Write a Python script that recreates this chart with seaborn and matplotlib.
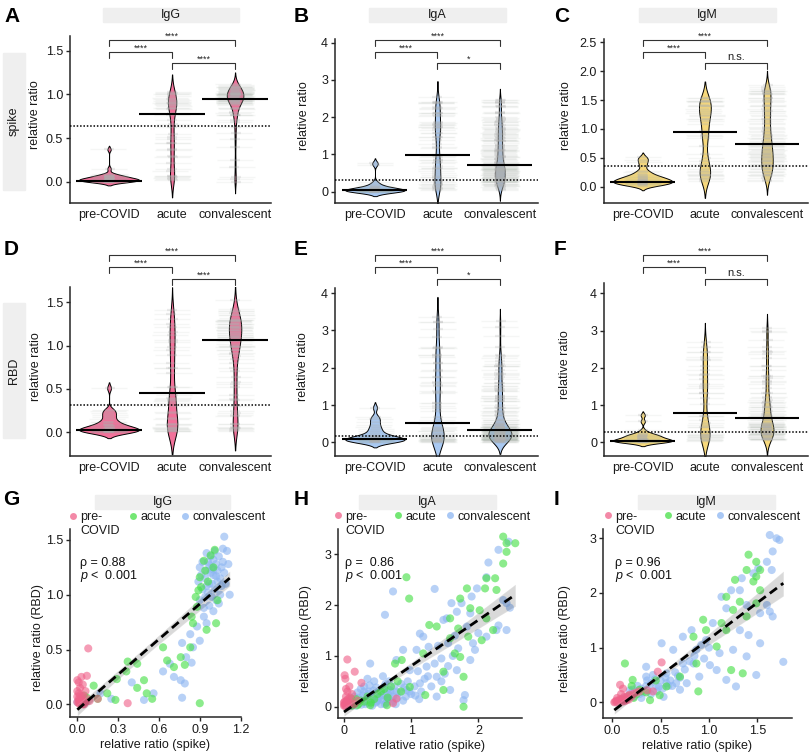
import numpy as np
import pandas as pd
import matplotlib
matplotlib.use("Agg")
import matplotlib.pyplot as plt
from matplotlib.lines import Line2D
from matplotlib.patches import Rectangle
import seaborn as sns

# ---------------- data (spike, RBD) pairs ----------------
GROUPS = ["pre-COVID", "acute", "convalescent"]
ISOTYPES = ["IgG", "IgA", "IgM"]

IGG_PRE = [(0.00,0.02),(0.01,0.05),(0.02,0.00),(0.01,0.10),(0.03,0.03),(0.02,0.15),(0.00,0.22),
           (0.04,0.08),(0.05,0.02),(0.03,0.25),(0.06,0.12),(0.01,0.01),(0.02,0.04),(0.07,0.05),
           (0.04,0.18),(0.08,0.51),(0.07,0.26),(0.15,0.05),(0.37,0.01),(0.00,0.07),(0.01,0.03),
           (0.02,0.01),(0.03,0.06),(0.05,0.00),(0.09,0.03),(0.00,0.12),(0.01,0.20),(0.02,0.08),
           (0.04,0.00),(0.06,0.02)]
IGG_ACU = [(0.12,0.17),(0.15,0.05),(0.22,0.10),(0.28,0.04),(0.29,0.23),(0.36,0.30),(0.37,0.39),
           (0.44,0.37),(0.44,0.15),(0.49,0.22),(0.51,0.10),(0.55,0.05),(0.63,0.52),(0.66,0.40),
           (0.71,0.34),(0.76,0.43),(0.79,0.36),(0.83,0.52),(0.85,0.74),(0.84,0.80),(0.88,0.89),
           (0.90,0.01),(0.87,0.98),(0.89,1.04),(0.90,1.16),(0.94,1.22),(0.93,1.31),(0.98,1.36),
           (1.01,1.41),(0.96,1.12),(1.02,0.74),(1.03,0.95),(0.95,0.68),(0.91,1.07),(1.00,1.25),
           (0.03,0.04),(0.05,0.08),(0.04,0.02),(0.06,0.03),(0.02,0.01),(0.07,0.06)]
IGG_CON = [(0.25,0.05),(0.40,0.20),(0.56,0.10),(0.63,0.30),(0.68,0.37),(0.71,0.25),(0.76,0.22),
           (0.77,0.56),(0.80,0.43),(0.77,0.06),(0.79,0.19),(0.83,0.64),(0.84,0.38),(0.85,0.52),
           (0.88,0.71),(0.90,0.58),(0.93,0.80),(0.95,0.74),(0.17,0.10),(0.49,0.04),(0.00,0.02),
           (0.03,0.03),(0.05,0.05),
           (0.90,0.95),(0.92,1.05),(0.94,1.15),(0.95,1.22),(0.96,1.30),(0.97,1.10),(0.98,1.20),
           (0.99,1.25),(1.00,1.18),(1.00,1.32),(1.01,1.05),(1.02,1.28),(1.03,1.22),(1.04,1.35),
           (1.05,1.15),(1.06,1.25),(1.07,1.30),(1.08,1.20),(1.10,1.40),(1.08,1.53),(0.97,0.90),
           (0.99,0.98),(1.02,0.95),(1.05,1.00),(1.00,0.85),(0.95,1.38),(0.92,1.30),(0.90,1.25),
           (0.89,1.12),(1.03,1.12),(1.06,1.08),(1.01,1.40),(0.98,1.35),(0.96,1.02),(1.04,0.92),
           (1.12,1.00),(1.09,1.10),(0.93,0.88),(0.91,1.18),(0.94,0.98),(0.97,1.27),(1.00,1.23),
           (1.02,1.17),(0.99,1.10),(0.95,1.08),(1.11,1.28),(1.07,1.42)]

IGA_PRE = [(0.00,0.02),(0.02,0.05),(0.01,0.10),(0.03,0.20),(0.05,0.30),(0.04,0.01),(0.06,0.15),
           (0.08,0.40),(0.10,0.08),(0.12,0.25),(0.15,0.05),(0.02,0.55),(0.01,0.62),(0.05,0.93),
           (0.16,0.69),(0.26,0.47),(0.73,0.07),(0.78,0.16),(0.20,0.12),(0.07,0.03),(0.03,0.35),
           (0.09,0.18),(0.00,0.08),(0.04,0.12),(0.02,0.01),(0.01,0.04),(0.06,0.06),(0.03,0.09)]
IGA_ACU = [(2.37,3.35),(2.42,3.22),(2.55,3.22),(2.42,3.05),(2.37,2.82),(2.12,2.53),(2.25,2.53),
           (2.27,2.30),(2.10,2.33),(1.83,2.33),(0.93,2.55),(0.97,2.13),(1.73,2.13),(1.88,1.94),
           (2.02,1.90),(2.12,1.74),(1.58,1.74),(1.27,1.61),(1.38,1.58),(1.70,1.54),(2.22,1.51),
           (2.05,1.31),(1.85,1.38),(1.58,1.35),(0.76,0.85),(0.86,0.92),(1.18,1.05),(1.48,0.69),
           (1.65,1.05),(1.73,0.98),(1.78,0.59),(1.48,0.33),(1.21,0.23),(0.39,0.03),(0.64,0.03),
           (1.78,0.00),(0.98,0.39),(0.11,0.16),(0.05,0.10),(0.08,0.05),(0.10,0.05),(0.15,0.08),
           (0.20,0.03),(0.25,0.12),(0.30,0.10),(0.18,0.15),(0.35,0.20),(0.45,0.15),(0.50,0.25),
           (0.55,0.30),(0.60,0.35),(0.70,0.40),(0.80,0.50),(0.12,0.02),(0.22,0.06),(0.40,0.08),
           (0.65,0.18),(0.85,0.30)]
IGA_CON = [(2.45,3.25),(2.30,3.09),(2.15,2.84),(2.12,2.55),(1.35,2.32),(0.73,2.27),(0.61,1.81),
           (1.18,1.38),(1.48,1.71),(1.53,1.74),(1.60,2.04),(1.75,2.04),(1.98,2.33),(1.90,2.17),
           (2.37,2.10),(2.42,2.04),(1.88,1.84),(1.68,1.87),(1.83,1.58),(2.12,1.38),(2.27,1.51),
           (2.42,1.51),(1.95,1.12),(1.88,0.92),(1.68,0.72),(1.26,1.18),(1.08,1.12),(1.13,1.44),
           (0.88,1.12),(0.78,0.92),(0.39,0.85),(0.98,0.72),(1.23,0.79),(1.38,0.59),(1.13,0.46),
           (1.58,0.33),(1.78,0.13),(1.80,0.23),(1.38,0.20),(0.93,0.33),
           (0.20,0.05),(0.25,0.10),(0.30,0.15),(0.35,0.08),(0.40,0.20),(0.45,0.25),(0.50,0.12),
           (0.55,0.30),(0.60,0.22),(0.65,0.35),(0.70,0.28),(0.75,0.40),(0.80,0.18),(0.85,0.45),
           (0.90,0.38),(0.30,0.30),(0.42,0.02),(0.55,0.05),(0.62,0.45),(0.48,0.38),(0.38,0.42),
           (0.72,0.10),(0.15,0.06),(0.10,0.02),(0.28,0.22),(0.52,0.18),(0.68,0.15),(0.78,0.30),
           (0.95,0.50),(1.05,0.40),(1.15,0.30),(1.00,0.25),(0.35,0.55),(0.58,0.60),
           (0.05,0.03),(0.08,0.10),(0.12,0.05),(0.18,0.12),(0.22,0.18),(0.26,0.04),(0.32,0.10),
           (0.36,0.25),(0.40,0.12),(0.44,0.32),(0.47,0.08),(0.50,0.20),(0.53,0.28),(0.57,0.14),
           (0.60,0.40),(0.63,0.08),(0.66,0.24),(0.20,0.28),(0.30,0.40),(0.45,0.50),(0.15,0.20),
           (0.25,0.35),(0.58,0.32),(0.35,0.15),(0.67,0.50),
           (0.25,0.12),(0.32,0.05),(0.41,0.18),(0.49,0.10),(0.56,0.22),(0.64,0.15),(0.73,0.20),
           (0.82,0.28),(0.88,0.12),(0.97,0.30),(1.06,0.22),(1.12,0.15),(0.18,0.02),(0.37,0.30),
           (0.61,0.05),(0.69,0.32),(0.77,0.05),(0.92,0.20),
           (1.25,0.60),(1.35,0.85),(1.45,0.95),(1.55,0.80),(1.62,1.00),(1.70,1.15),(1.45,0.50),
           (1.30,0.40),(1.20,0.55),(1.10,0.70),(1.40,1.20),(1.55,1.25),(2.00,1.45),(2.30,1.60),
           (1.92,1.25),(2.47,1.95),(1.65,1.40),(1.50,0.65)]

IGM_PRE = [(0.02,0.00),(0.04,0.03),(0.06,0.02),(0.08,0.06),(0.10,0.05),(0.12,0.10),(0.14,0.08),
           (0.16,0.12),(0.18,0.14),(0.20,0.10),(0.22,0.16),(0.25,0.18),(0.05,0.08),(0.09,0.15),
           (0.11,0.25),(0.08,0.32),(0.28,0.20),(0.36,0.22),(0.42,0.20),(0.51,0.73),(0.47,0.56),
           (0.13,0.02),(0.17,0.05),(0.03,0.01),(0.07,0.03),(0.05,0.00),(0.10,0.01),(0.15,0.04)]
IGM_ACU = [(1.41,2.70),(1.49,2.57),(1.53,2.42),(1.49,2.30),(1.46,2.21),(1.39,2.42),(1.27,2.24),
           (1.18,1.93),(1.32,1.84),(1.25,1.69),(1.13,1.45),(1.18,1.32),(0.94,1.51),(0.97,1.32),
           (0.84,1.20),(1.08,1.02),(1.23,0.59),(1.35,0.53),(0.87,0.71),(0.70,0.47),(0.56,0.29),
           (0.49,0.13),(0.89,0.20),(0.13,0.71),(0.21,0.41),(0.28,0.23),(0.39,0.04),(0.15,0.07),
           (1.49,1.81),(1.39,1.57),(1.53,2.05),(0.10,0.05),(0.18,0.12),(0.22,0.08),(0.25,0.15),
           (0.30,0.20),(0.35,0.18),(0.20,0.30),(0.45,0.40)]
IGM_CON = [(1.63,3.06),(1.70,3.00),(1.66,2.76),(1.73,2.97),(1.65,2.42),(1.60,2.57),(1.51,2.45),
           (1.46,2.36),(1.34,2.27),(1.32,2.05),(1.23,2.05),(1.13,1.93),(1.18,1.72),(1.39,1.78),
           (1.60,1.78),(1.63,1.66),(1.66,1.57),(1.53,1.63),(1.77,0.74),(1.53,1.08),(1.41,1.23),
           (1.32,1.32),(1.04,1.45),(0.97,1.14),(0.82,1.32),(0.73,1.20),(0.51,1.08),(0.63,0.96),
           (0.87,0.96),(1.11,0.90),(1.25,0.96),(1.39,0.84),(1.08,0.59),(1.01,0.68),(0.73,0.71),
           (0.56,0.53),(0.35,0.65),(0.35,0.47),(0.21,0.23),(0.70,0.23),(0.53,0.10),(0.77,0.35),
           (0.90,0.47),(1.18,0.41),(1.28,0.29),(1.49,0.50),(0.84,0.71),
           (0.10,0.05),(0.15,0.10),(0.20,0.12),(0.25,0.20),(0.30,0.25),(0.35,0.30),(0.40,0.35),
           (0.45,0.30),(0.50,0.40),(0.55,0.45),(0.60,0.40),(0.65,0.55),(0.28,0.15),(0.38,0.22),
           (0.48,0.28),(0.18,0.22),(0.42,0.50),(0.58,0.30),(0.68,0.48),(0.75,0.60),(0.80,0.75),
           (0.85,0.85),(0.95,0.80),(1.00,1.00),(0.92,1.05),
           (0.12,0.08),(0.22,0.10),(0.32,0.18),(0.40,0.15),(0.46,0.20),(0.52,0.25),(0.62,0.30),
           (0.26,0.30),(0.36,0.40),(0.44,0.42),(0.30,0.08),(0.56,0.35),(0.66,0.35),(0.70,0.45)]

DATA = {"IgG": [IGG_PRE, IGG_ACU, IGG_CON],
        "IgA": [IGA_PRE, IGA_ACU, IGA_CON],
        "IgM": [IGM_PRE, IGM_ACU, IGM_CON]}

# summary values
MED_SPIKE = {"IgG": [0.01, 0.78, 0.95], "IgA": [0.04, 0.99, 0.72], "IgM": [0.08, 0.94, 0.735]}
MED_RBD = {"IgG": [0.027, 0.457, 1.065], "IgA": [0.08, 0.51, 0.33], "IgM": [0.043, 0.795, 0.66]}
CUT_SPIKE = {"IgG": 0.64, "IgA": 0.31, "IgM": 0.365}
CUT_RBD = {"IgG": 0.318, "IgA": 0.17, "IgM": 0.277}
SIG = {"IgG": ["****", "****", "****"], "IgA": ["****", "****", "*"], "IgM": ["****", "****", "n.s."]}
RHO = {"IgG": "\u03c1 = 0.88", "IgA": "\u03c1 =  0.86", "IgM": "\u03c1 = 0.96"}
PVAL = "$p$ <  0.001"
LEGEND_LABELS = ["pre-\nCOVID", "acute", "convalescent"]

VIOLIN_COL = {"IgG": "#F2719A", "IgA": "#A9C9F2", "IgM": "#F7D97C"}
PAL = {"pre-COVID": "#F0628A", "acute": "#45E045", "convalescent": "#8DB6F2"}

rows = []
for iso in ISOTYPES:
    for g, pts in zip(GROUPS, DATA[iso]):
        for s, r in pts:
            rows.append((iso, g, s, r))
df = pd.DataFrame(rows, columns=["isotype", "group", "spike", "rbd"])

# ---------------- figure ----------------
sns.set_theme(style="ticks")
plt.rcParams["font.family"] = ["Liberation Sans", "DejaVu Sans"]
plt.rcParams["mathtext.fontset"] = "custom"
plt.rcParams["mathtext.it"] = "Liberation Sans:italic"
plt.rcParams["mathtext.rm"] = "Liberation Sans"
plt.rcParams["axes.linewidth"] = 1.1

W, H = 810, 752
fig = plt.figure(figsize=(W / 100, H / 100), dpi=100)


def add_ax(x0, x1, ytop, ybot):
    return fig.add_axes([x0 / W, 1 - ybot / H, (x1 - x0) / W, (ybot - ytop) / H])


# pixel boxes of each panel: x0, x1, ytop, ybot
VBOX = {("spike", "IgG"): (70, 271, 36, 203), ("spike", "IgA"): (335, 538, 39, 203),
        ("spike", "IgM"): (604, 808, 39, 203), ("rbd", "IgG"): (70, 271, 287, 456),
        ("rbd", "IgA"): (335, 538, 288, 456), ("rbd", "IgM"): (604, 808, 283, 456)}
VYLIM = {("spike", "IgG"): (-0.244, 1.67), ("spike", "IgA"): (-0.303, 4.10),
         ("spike", "IgM"): (-0.283, 2.56), ("rbd", "IgG"): (-0.273, 1.676),
         ("rbd", "IgA"): (-0.368, 4.14), ("rbd", "IgM"): (-0.368, 4.28)}
VXLIM = {"IgG": (-0.62, 2.57), "IgA": (-0.64, 2.61), "IgM": (-0.624, 2.66)}
VYT = {"IgG": ([0, 0.5, 1.0, 1.5], "{:.1f}"), "IgA": ([0, 1, 2, 3, 4], "{:.0f}"),
       "IgM": ([0, 0.5, 1.0, 1.5, 2.0, 2.5], "{:.1f}")}
VYT_RBD = {"IgG": ([0, 0.5, 1.0, 1.5], "{:.1f}"), "IgA": ([0, 1, 2, 3, 4], "{:.0f}"),
           "IgM": ([0, 1, 2, 3, 4], "{:.0f}")}
YLAB_X = {("spike", "IgG"): -0.144, ("spike", "IgA"): -0.123, ("spike", "IgM"): -0.157,
          ("rbd", "IgG"): -0.139, ("rbd", "IgA"): -0.128, ("rbd", "IgM"): -0.16}
BRACKET_Y = {"spike": [40, 52, 63], "rbd": [255, 267, 279]}
PAIRS = [(0, 2), (0, 1), (1, 2)]

for row, antigen in enumerate(["spike", "rbd"]):
    for iso in ISOTYPES:
        x0, x1, yt, yb = VBOX[(antigen, iso)]
        ax = add_ax(x0, x1, yt, yb)
        sub = df[df.isotype == iso]
        sns.violinplot(data=sub, x="group", y=antigen, order=GROUPS, color=VIOLIN_COL[iso],
                       saturation=1, inner=None, linewidth=0.7, linecolor="black",
                       density_norm="area", width=0.95, bw_adjust=0.6, cut=2, ax=ax)
        # faint wide ticks for every sample
        sns.stripplot(data=sub, x="group", y=antigen, order=GROUPS, marker="_", size=26,
                      color="#9eaa9e", alpha=0.10, linewidth=1, jitter=0.03, ax=ax)
        # narrow ticks that pile up into grey blocks where samples are dense
        sns.stripplot(data=sub, x="group", y=antigen, order=GROUPS, marker="_", size=7,
                      color="#b0b0b0", alpha=0.24, linewidth=1.6, jitter=0.015, ax=ax)
        meds = MED_SPIKE[iso] if antigen == "spike" else MED_RBD[iso]
        for i, m in enumerate(meds):
            ax.hlines(m, i - 0.52, i + 0.52, color="black", lw=1.5, zorder=6)
        cut = CUT_SPIKE[iso] if antigen == "spike" else CUT_RBD[iso]
        ax.axhline(cut, color="black", ls=(0, (1, 1.2)), lw=1.1, zorder=5)
        ax.set_xlim(*VXLIM[iso])
        ax.set_ylim(*VYLIM[(antigen, iso)])
        ticks, fmt = (VYT if antigen == "spike" else VYT_RBD)[iso]
        ax.set_yticks(ticks)
        ax.set_yticklabels([fmt.format(t) for t in ticks])
        ax.set_xlabel("")
        ax.set_ylabel("relative ratio", fontsize=9, color="#1a1a1a")
        ax.yaxis.set_label_coords(YLAB_X[(antigen, iso)], 0.53)
        ax.tick_params(axis="x", length=0, pad=4, labelsize=9, labelcolor="#1a1a1a")
        ax.tick_params(axis="y", length=3, width=1, pad=2, labelsize=9, labelcolor="#1a1a1a")
        for s in ["top", "right"]:
            ax.spines[s].set_visible(False)
        # significance brackets
        trans = ax.get_xaxis_transform()
        for (a, b), ypx, lab in zip(PAIRS, BRACKET_Y[antigen], SIG[iso]):
            yl = (yb - ypx) / (yb - yt)
            yd = (yb - ypx - 6) / (yb - yt)
            ax.plot([a, a, b, b], [yd, yl, yl, yd], color="#333333", lw=0.8,
                    transform=trans, clip_on=False)
            fs = 8 if lab == "n.s." else 6.5
            off = 1.5 if lab == "n.s." else -1
            ax.text((a + b) / 2, (yb - ypx + off) / (yb - yt), lab, ha="center", va="bottom",
                    fontsize=fs, color="#222222", transform=trans, clip_on=False)

# scatter panels
SBOX = {"IgG": (70, 241, 529, 717), "IgA": (338, 522, 529, 718), "IgM": (603, 792, 529, 718)}
SXLIM = {"IgG": (-0.054, 1.203), "IgA": (-0.089, 2.65), "IgM": (-0.097, 1.86)}
SYLIM = {"IgG": (-0.116, 1.60), "IgA": (-0.222, 3.50), "IgM": (-0.287, 3.17)}
SXT = {"IgG": ([0, 0.3, 0.6, 0.9, 1.2], "{:.1f}"), "IgA": ([0, 1, 2], "{:.0f}"),
       "IgM": ([0, 0.5, 1.0, 1.5], "{:.1f}")}
SYT = {"IgG": ([0, 0.5, 1.0, 1.5], "{:.1f}"), "IgA": ([0, 1, 2, 3], "{:.0f}"),
       "IgM": ([0, 1, 2, 3], "{:.0f}")}
SYLAB_X = {"IgG": -0.152, "IgA": -0.141, "IgM": -0.169}
LEG_X = {"IgG": -0.006, "IgA": -0.022, "IgM": 0.005}
RHO_X = {"IgG": 0.058, "IgA": 0.04, "IgM": 0.063}
ZORDER_GROUPS = ["convalescent", "acute", "pre-COVID"]

for iso in ISOTYPES:
    x0, x1, yt, yb = SBOX[iso]
    ax = add_ax(x0, x1, yt, yb)
    sub = df[df.isotype == iso]
    sub_sorted = pd.concat([sub[sub.group == g] for g in ZORDER_GROUPS])
    sns.scatterplot(data=sub_sorted, x="spike", y="rbd", hue="group", palette=PAL, s=34,
                    alpha=0.62, linewidth=0, legend=False, ax=ax)
    sns.regplot(data=sub, x="spike", y="rbd", scatter=False, ci=95, color="black",
                line_kws=dict(ls=(0, (3.2, 1.8)), lw=2), ax=ax, seed=1)
    ax.set_xlim(*SXLIM[iso])
    ax.set_ylim(*SYLIM[iso])
    xt, xf = SXT[iso]
    yt_, yf = SYT[iso]
    ax.set_xticks(xt)
    ax.set_xticklabels([xf.format(t) for t in xt])
    ax.set_yticks(yt_)
    ax.set_yticklabels([yf.format(t) for t in yt_])
    ax.set_xlabel("relative ratio (spike)", fontsize=9, color="#1a1a1a", labelpad=2)
    ax.set_ylabel("relative ratio (RBD)", fontsize=9, color="#1a1a1a")
    ax.yaxis.set_label_coords(SYLAB_X[iso], 0.42)
    ax.tick_params(length=3, width=1, pad=2, labelsize=9, labelcolor="#1a1a1a")
    for s in ["top", "right"]:
        ax.spines[s].set_visible(False)
    ax.text(RHO_X[iso], 0.82, RHO[iso], transform=ax.transAxes, fontsize=9,
            va="center", ha="left", color="#111111")
    ax.text(RHO_X[iso], 0.75, PVAL, transform=ax.transAxes, fontsize=9,
            va="center", ha="left", color="#111111")
    handles = [Line2D([], [], marker="o", ls="", color=PAL[g], alpha=0.75, markersize=5,
                      markeredgewidth=0) for g in GROUPS]
    leg = ax.legend(handles, LEGEND_LABELS, ncol=3, loc="upper left",
                    bbox_to_anchor=(LEG_X[iso], 1.095), frameon=False, handlelength=0.6,
                    handletextpad=0.3, columnspacing=0.8, borderpad=0, borderaxespad=0,
                    fontsize=9, labelcolor="#1a1a1a")
    hb = leg._legend_handle_box
    hb.align = "top"
    for col in hb.get_children():
        col.align = "left"
        for item in col.get_children():
            item.align = "top"

# strips
STRIP_COL = "#EFEFEF"
TOP_STRIPS = [((103, 239), "IgG"), ((369, 506), "IgA"), ((639, 776), "IgM")]
TOP_STRIPS3 = [((95, 230), "IgG"), ((359, 496), "IgA"), ((638, 775), "IgM")]
for strips, (yt, yb) in [(TOP_STRIPS, (8, 21.5)), (TOP_STRIPS3, (495, 508.5))]:
    for (sx0, sx1), lab in strips:
        fig.patches.append(Rectangle((sx0 / W, 1 - yb / H), (sx1 - sx0) / W, (yb - yt) / H,
                                     transform=fig.transFigure, color=STRIP_COL, zorder=0))
        fig.text((sx0 + sx1) / 2 / W, 1 - (yt + yb) / 2 / H, lab, ha="center", va="center",
                 fontsize=9, color="#1a1a1a")
for (yt, yb), lab in [((53, 190), "spike"), ((303, 438), "RBD")]:
    fig.patches.append(Rectangle((3 / W, 1 - yb / H), 22 / W, (yb - yt) / H,
                                 transform=fig.transFigure, color=STRIP_COL, zorder=0))
    fig.text(14 / W, 1 - (yt + yb) / 2 / H, lab, ha="center", va="center", rotation=90,
             fontsize=9, color="#1a1a1a")

# panel letters
for lab, (lx, ly) in zip("ABCDEFGHI", [(4, 22), (294, 22), (554, 22), (4, 255), (294, 255),
                                       (554, 255), (3, 505), (294, 505), (554, 505)]):
    fig.text(lx / W, 1 - ly / H, lab, fontsize=15, fontweight="bold", va="baseline",
             ha="left", color="black")

fig.savefig("out.png", dpi=100)
